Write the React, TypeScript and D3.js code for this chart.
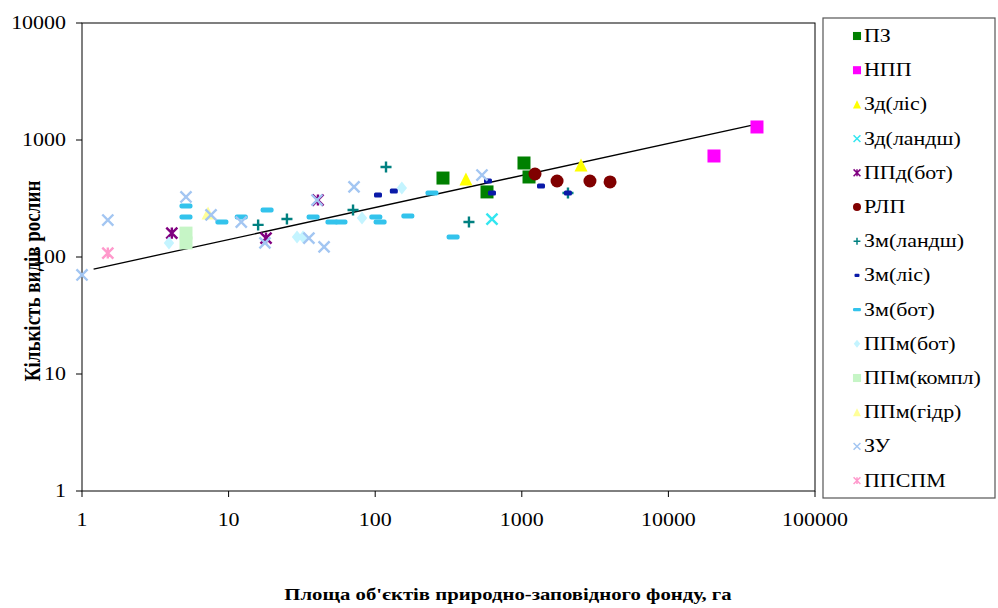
import * as d3 from "d3";
import { useEffect, useRef } from "react";

// area, ha  /  number of plant species
const pzArea = [290, 1035, 1120, 579];
const pzSpecies = [473, 636, 483, 360];
const nppArea = [40200, 20460];
const nppSpecies = [1292, 730];
const zdLisArea = [416, 2535];
const zdLisSpecies = [464, 611];
const zdLandArea = [626];
const zdLandSpecies = [211];
const ppdBotArea = [4.1, 18, 40.7];
const ppdBotSpecies = [160, 145, 307];
const rlpArea = [1230, 1740, 2917, 4000];
const rlpSpecies = [512, 446, 446, 438];
const zmLandArea = [15.9, 25, 70.6, 118.5, 436, 2065];
const zmLandSpecies = [188, 211, 252, 588, 199, 352];
const zmLisArea = [104.5, 134, 588, 626, 1352, 2065];
const zmLisSpecies = [339, 367, 446, 352, 404, 352];
const zmBotArea = [5.12, 5.12, 9.0, 12.2, 18.3, 37.7, 50.7, 58.4, 101, 108, 167, 244, 340];
const zmBotSpecies = [273, 220, 199, 220, 252, 220, 199, 199, 220, 199, 224, 352, 148];
const ppmBotArea = [3.92, 29.3, 32.2, 81.3, 152];
const ppmBotSpecies = [132, 148, 148, 215, 389];
const ppmComplArea = [5.12, 5.12];
const ppmComplSpecies = [160, 132];
const ppmGidrArea = [7.24];
const ppmGidrSpecies = [238];
const zuArea = [1, 1.5, 5.12, 7.59, 12.2, 17.7, 35.3, 44.8, 71.7, 40.1, 535];
const zuSpecies = [70.2, 207, 326, 229, 199, 132, 145, 122, 397, 307, 502];
const ppspmArea = [1.5];
const ppspmSpecies = [108];

const xTicks = [1, 10, 100, 1000, 10000, 100000];
const yTicks = [1, 10, 100, 1000, 10000];

// power trend y = a * x^b
const trendA = 75;
const trendB = 0.274;
const trendFrom = 1.2;
const trendTo = 40200;

const series = [
  { name: "ПЗ", xs: pzArea, ys: pzSpecies, color: "#008000", shape: "square" },
  { name: "НПП", xs: nppArea, ys: nppSpecies, color: "#ff00ff", shape: "square" },
  { name: "Зд(ліс)", xs: zdLisArea, ys: zdLisSpecies, color: "#ffff00", shape: "triangle" },
  { name: "Зд(ландш)", xs: zdLandArea, ys: zdLandSpecies, color: "#33e6f0", shape: "x" },
  { name: "ППд(бот)", xs: ppdBotArea, ys: ppdBotSpecies, color: "#800080", shape: "star" },
  { name: "РЛП", xs: rlpArea, ys: rlpSpecies, color: "#800000", shape: "circle" },
  { name: "Зм(ландш)", xs: zmLandArea, ys: zmLandSpecies, color: "#008080", shape: "plus" },
  { name: "Зм(ліс)", xs: zmLisArea, ys: zmLisSpecies, color: "#0a1aa8", shape: "small" },
  { name: "Зм(бот)", xs: zmBotArea, ys: zmBotSpecies, color: "#33c3ec", shape: "dash" },
  { name: "ППм(бот)", xs: ppmBotArea, ys: ppmBotSpecies, color: "#c4f4ff", shape: "diamond" },
  { name: "ППм(компл)", xs: ppmComplArea, ys: ppmComplSpecies, color: "#c6f5c6", shape: "square" },
  { name: "ППм(гідр)", xs: ppmGidrArea, ys: ppmGidrSpecies, color: "#ffff99", shape: "triangle" },
  { name: "ЗУ", xs: zuArea, ys: zuSpecies, color: "#a3c6f2", shape: "x" },
  { name: "ППСПМ", xs: ppspmArea, ys: ppspmSpecies, color: "#ff99cc", shape: "star" },
];

const FONT = "'Liberation Serif', 'Times New Roman', serif";
const STRETCH = 1.22;

// draw one marker centred at (cx, cy); k scales the size
function marker(g, shape, color, cx, cy, k) {
  const s = 6.5 * k;
  if (shape === "square") {
    g.append("rect").attr("x", cx - s).attr("y", cy - s).attr("width", 2 * s).attr("height", 2 * s).attr("fill", color);
  } else if (shape === "circle") {
    g.append("circle").attr("cx", cx).attr("cy", cy).attr("r", s).attr("fill", color);
  } else if (shape === "triangle") {
    g.append("path").attr("d", `M${cx},${cy - s}L${cx + s},${cy + s}L${cx - s},${cy + s}Z`).attr("fill", color);
  } else if (shape === "diamond") {
    g.append("path").attr("d", `M${cx},${cy - s}L${cx + s * 0.8},${cy}L${cx},${cy + s}L${cx - s * 0.8},${cy}Z`).attr("fill", color);
  } else if (shape === "x" || shape === "star") {
    const r = s * 0.85;
    let d = `M${cx - r},${cy - r}L${cx + r},${cy + r}M${cx + r},${cy - r}L${cx - r},${cy + r}`;
    if (shape === "star") d += `M${cx},${cy - r}L${cx},${cy + r}`;
    g.append("path").attr("d", d).attr("stroke", color).attr("stroke-width", 2.4 * Math.max(k, 0.6)).attr("fill", "none");
  } else if (shape === "plus") {
    const r = s * 0.85;
    g.append("path").attr("d", `M${cx - r},${cy}L${cx + r},${cy}M${cx},${cy - r}L${cx},${cy + r}`).attr("stroke", color).attr("stroke-width", 2.4 * Math.max(k, 0.6)).attr("fill", "none");
  } else if (shape === "dash") {
    g.append("rect").attr("x", cx - s).attr("y", cy - 2.5 * k).attr("width", 2 * s).attr("height", 5 * k).attr("rx", 2 * k).attr("fill", color);
  } else if (shape === "small") {
    g.append("rect").attr("x", cx - 4 * k).attr("y", cy - 2.5 * k).attr("width", 8 * k).attr("height", 5 * k).attr("rx", 1.5 * k).attr("fill", color);
  }
}

function stretchedText(g, x, y, txt, size, anchor, weight = "normal") {
  return g
    .append("text")
    .attr("transform", `translate(${x},${y}) scale(${STRETCH},1)`)
    .attr("text-anchor", anchor)
    .attr("font-family", FONT)
    .attr("font-size", size)
    .attr("font-weight", weight)
    .attr("fill", "#000")
    .text(txt);
}

const ScatterChart = () => {
  const ref = useRef(null);

  useEffect(() => {
    const svg = d3.select(ref.current);
    svg.selectAll("*").remove();

    const width = 998;
    const height = 608;
    const left = 82;
    const right = 815;
    const top = 23;
    const bottom = 491;

    svg.attr("width", width).attr("height", height);
    svg.append("rect").attr("width", width).attr("height", height).attr("fill", "#fff");

    const x = d3.scaleLog().domain([1, 100000]).range([left, right]);
    const y = d3.scaleLog().domain([1, 10000]).range([bottom, top]);

    // plot frame
    svg.append("rect").attr("x", left).attr("y", top).attr("width", right - left).attr("height", bottom - top)
      .attr("fill", "none").attr("stroke", "#000").attr("stroke-width", 1);

    // ticks and labels
    const axes = svg.append("g");
    xTicks.forEach((t) => {
      axes.append("line").attr("x1", x(t)).attr("x2", x(t)).attr("y1", bottom).attr("y2", bottom + 6).attr("stroke", "#000");
      stretchedText(axes, x(t), bottom + 35, String(t), 18, "middle");
    });
    yTicks.forEach((t) => {
      axes.append("line").attr("x1", left - 6).attr("x2", left).attr("y1", y(t)).attr("y2", y(t)).attr("stroke", "#000");
      stretchedText(axes, left - 16, y(t) + 6, String(t), 18, "end");
    });

    // trend line
    const line = d3.line().x((d) => x(d)).y((d) => y(trendA * Math.pow(d, trendB)));
    svg.append("path").attr("d", line([trendFrom, trendTo])).attr("stroke", "#000").attr("stroke-width", 1.3).attr("fill", "none");

    // points
    const pts = svg.append("g");
    series.forEach((s) => {
      s.xs.forEach((v, i) => marker(pts, s.shape, s.color, x(v), y(s.ys[i]), 1));
    });

    // axis titles
    stretchedText(svg, 508, 600, "Площа об'єктів  природно-заповідного фонду, га", 17, "middle", "bold");
    svg.append("text")
      .attr("transform", `translate(40,281) rotate(-90) scale(1,${STRETCH})`)
      .attr("text-anchor", "middle")
      .attr("font-family", FONT)
      .attr("font-size", 19)
      .attr("font-weight", "bold")
      .text("Кількість видів рослин");

    // legend
    const lg = svg.append("g");
    lg.append("rect").attr("x", 823).attr("y", 18).attr("width", 172).attr("height", 480)
      .attr("fill", "#fff").attr("stroke", "#555").attr("stroke-width", 1.2);
    series.forEach((s, i) => {
      const cy = 36 + i * 34.2;
      marker(lg, s.shape, s.color, 857, cy, 0.62);
      stretchedText(lg, 864, cy + 6, s.name, 18, "start");
    });
  }, []);

  return <svg ref={ref} style={{ display: "block", position: "absolute", left: 0, top: 0 }}></svg>;
};

export default function App() {
  return <ScatterChart />;
}
